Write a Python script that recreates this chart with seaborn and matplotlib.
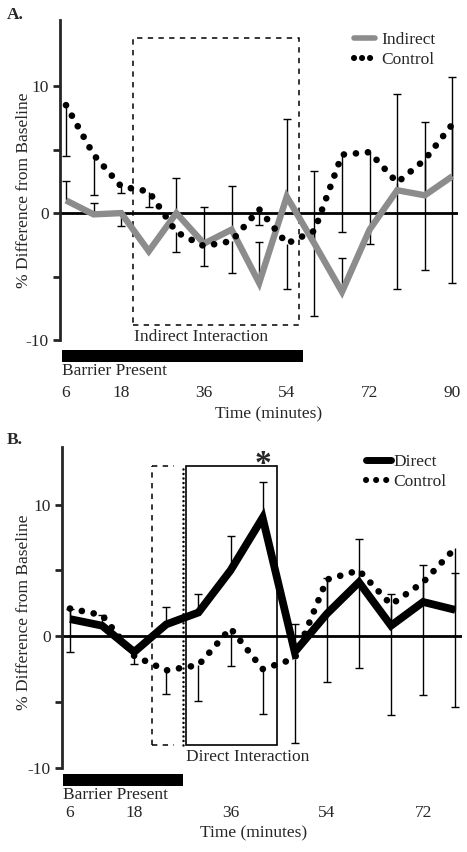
import matplotlib
matplotlib.use("Agg")
import matplotlib.pyplot as plt
import matplotlib.patches as mpatches
from matplotlib.lines import Line2D
import numpy as np
import pandas as pd
import seaborn as sns

# ---- data ----
time_a = [6, 12, 18, 24, 30, 36, 42, 48, 54, 60, 66, 72, 78, 84, 90]
indirect = [1.0, -0.1, 0.0, -3.0, 0.0, -2.4, -1.3, -5.5, 1.3, -2.4, -6.2, -1.3, 1.8, 1.4, 2.9]
control_a = [8.5, 4.6, 2.1, 1.7, -1.5, -2.6, -2.2, 0.3, -2.4, -1.4, 4.6, 4.8, 2.4, 4.2, 7.0]
indirect_err_up = [1.5, 0.9, 0, 0, 2.8, 2.9, 3.4, 3.2, 6.1, 5.7, 2.7, 0, 7.6, 5.8, 7.8]
indirect_err_dn = [0, 0, 1.0, 0, 0, 0, 0, 0, 0, 0, 0, 0, 0, 0, 0]
control_a_err_dn = [4.0, 3.2, 0.5, 1.2, 1.6, 1.6, 2.5, 1.2, 3.6, 6.7, 6.1, 7.2, 8.4, 8.7, 12.5]

time_b = [6, 12, 18, 24, 30, 36, 42, 48, 54, 60, 66, 72, 78]
direct = [1.3, 0.8, -1.2, 0.9, 1.8, 5.0, 9.0, -1.2, 1.7, 4.1, 0.8, 2.6, 2.0]
control_b = [2.1, 1.6, -1.5, -2.6, -2.2, 0.6, -2.5, -1.7, 4.3, 5.0, 2.4, 4.1, 6.7]
direct_err_up = [0.8, 0.8, 0.4, 1.3, 1.4, 2.6, 2.7, 2.1, 2.7, 3.3, 2.4, 2.8, 2.8]
control_b_err_dn = [3.3, 0, 0.6, 1.8, 2.7, 2.9, 3.4, 6.4, 7.8, 7.4, 8.4, 8.6, 12.1]

xticks_a = [6, 18, 36, 54, 72, 90]
xticks_b = [6, 18, 36, 54, 72]
yticks = [-10, -5, 0, 5, 10]
ytick_labels = ["-10", "", "0", "", "10"]

barrier_a = (5.1, 57.5)
barrier_b = (4.75, 27.2)

sns.set_style("ticks")
plt.rcParams["font.family"] = ["Liberation Serif", "DejaVu Serif"]
plt.rcParams["font.size"] = 12.5

GRAY = "#8c8c8c"
DOT_LW = 4.8
DOTS = (0, (0.01, 1.8))


def whiskers(ax, t, y, up, dn):
    t, y, up, dn = map(np.asarray, (t, y, up, dn))
    ax.vlines(t, y - dn, y + up, color="black", lw=1.0, zorder=2)
    cx = np.concatenate([t[up > 0], t[dn > 0]])
    cy = np.concatenate([(y + up)[up > 0], (y - dn)[dn > 0]])
    ax.plot(cx, cy, ls="none", marker="_", ms=5.5, mew=1.0, color="black", zorder=2)


def style_axis(ax, xlim, ylim, xticks, barrier, bar_y):
    ax.set_xlim(*xlim)
    ax.set_ylim(*ylim)
    for s in ["top", "right", "bottom"]:
        ax.spines[s].set_visible(False)
    ax.spines["left"].set_linewidth(2.0)
    ax.spines["left"].set_bounds(-10, ylim[1])
    ax.axhline(0, color="black", lw=2.0, zorder=1)
    ax.set_yticks(yticks)
    ax.set_yticklabels(ytick_labels)
    ax.set_xticks(xticks)
    ax.tick_params(axis="y", direction="out", length=5, width=2, pad=3)
    ax.tick_params(axis="x", length=0, pad=2)
    ax.add_patch(mpatches.Rectangle((barrier[0], bar_y[1]), barrier[1] - barrier[0],
                                    bar_y[0] - bar_y[1], color="black", lw=0))
    ax.text(barrier[0], bar_y[1] - 0.1, "Barrier Present", ha="left", va="top")
    ax.set_xlabel("Time (minutes)")
    ax.set_ylabel("")


def legend(ax, main_color, main_lw, labels, anchor, hlen, dot_gap, pad):
    handles = [
        Line2D([], [], color=main_color, lw=main_lw, solid_capstyle="round"),
        Line2D([], [], color="black", lw=4.4, ls=(0, (0.01, dot_gap)), dash_capstyle="round"),
    ]
    ax.legend(handles, labels, loc="upper left", bbox_to_anchor=anchor, frameon=False,
              handlelength=hlen, handletextpad=pad, labelspacing=0.18, borderpad=0,
              borderaxespad=0)


fig = plt.figure(figsize=(4.67, 8.52), dpi=100)
ax_a = fig.add_axes([0.1285, 0.5516, 0.852, 0.4249])
ax_b = fig.add_axes([0.1321, 0.0587, 0.8565, 0.417])

# ---- panel A ----
df_a = pd.DataFrame({"time": time_a, "indirect": indirect, "control": control_a})
whiskers(ax_a, time_a, control_a, np.zeros(len(time_a)), control_a_err_dn)
whiskers(ax_a, time_a, indirect, indirect_err_up, indirect_err_dn)
sns.lineplot(data=df_a, x="time", y="indirect", ax=ax_a, color=GRAY, linewidth=4.6,
             solid_joinstyle="miter", solid_capstyle="butt", errorbar=None, zorder=3)
sns.lineplot(data=df_a, x="time", y="control", ax=ax_a, color="black", linewidth=DOT_LW,
             linestyle=DOTS, dash_capstyle="round", errorbar=None, zorder=4)
style_axis(ax_a, (4.7, 91.2), (-13.3, 15.2), xticks_a, barrier_a, (-10.8, -11.7))
ax_a.add_patch(mpatches.Rectangle((20.6, -8.8), 36.0, 22.6, fill=False, ec="black",
                                  lw=1.1, ls=(0, (3.5, 3.5))))
ax_a.text(20.8, -9.1, "Indirect Interaction", ha="left", va="top")
ax_a.xaxis.set_label_coords(0.523, -0.068)
legend(ax_a, GRAY, 4.0, ["Indirect", "Control"], (0.739, 0.966), 1.2, 1.3, 0.35)

# ---- panel B ----
df_b = pd.DataFrame({"time": time_b, "direct": direct, "control": control_b})
whiskers(ax_b, time_b, control_b, np.zeros(len(time_b)), control_b_err_dn)
whiskers(ax_b, time_b, direct, direct_err_up, np.zeros(len(time_b)))
sns.lineplot(data=df_b, x="time", y="direct", ax=ax_b, color="black", linewidth=5.6,
             solid_joinstyle="miter", solid_capstyle="butt", errorbar=None, zorder=3)
sns.lineplot(data=df_b, x="time", y="control", ax=ax_b, color="black", linewidth=DOT_LW,
             linestyle=DOTS, dash_capstyle="round", errorbar=None, zorder=4)
style_axis(ax_b, (4.45, 79.2), (-12.6, 14.4), xticks_b, barrier_b, (-10.5, -11.35))
ax_b.plot([21.3, 21.3], [-8.3, 12.9], color="black", lw=1.1, ls=(0, (3.5, 3.5)))
ax_b.plot([21.3, 25.5], [12.9, 12.9], color="black", lw=1.1, ls=(0, (3.5, 3.5)))
ax_b.plot([21.3, 25.5], [-8.3, -8.3], color="black", lw=1.1, ls=(0, (3.5, 3.5)))
ax_b.plot([27.2, 27.2], [-8.3, 12.9], color="black", lw=1.8, ls=(0, (0.01, 1.8)),
          dash_capstyle="round")
ax_b.add_patch(mpatches.Rectangle((27.7, -8.3), 16.9, 21.2, fill=False, ec="black", lw=1.2))
ax_b.text(27.6, -8.6, "Direct Interaction", ha="left", va="top")
ax_b.text(42.0, 12.4, "*", ha="center", va="baseline", fontsize=24, fontweight="bold")
ax_b.xaxis.set_label_coords(0.48, -0.066)
legend(ax_b, "black", 5.0, ["Direct", "Control"], (0.761, 0.979), 1.45, 1.64, 0.1)

# ---- panel letters and y labels ----
fig.text(7 / 467, 1 - 15 / 852, "A.", fontweight="bold", ha="left", va="center")
fig.text(7 / 467, 1 - 440 / 852, "B.", fontweight="bold", ha="left", va="center")
fig.text(24 / 467, 1 - 190 / 852, "% Difference from Baseline", rotation=90,
         ha="center", va="center")
fig.text(24 / 467, 1 - 612 / 852, "% Difference from Baseline", rotation=90,
         ha="center", va="center")

fig.savefig("out.png", dpi=100)
